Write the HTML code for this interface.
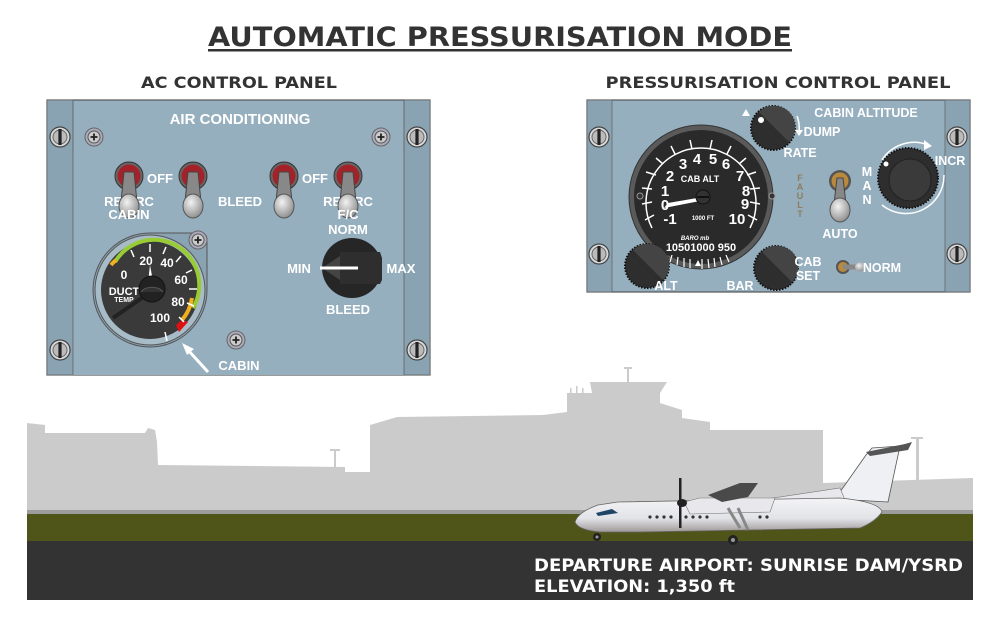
<!DOCTYPE html>
<html><head><meta charset="utf-8"><style>
html,body{margin:0;padding:0;background:#fff;}
svg{display:block}
text{font-family:"Liberation Sans",Arial,sans-serif;font-weight:bold;}
.v{font-family:"DejaVu Sans","Liberation Sans",sans-serif;font-weight:bold;}
.w{fill:#fff}
</style></head><body>
<svg width="1000" height="625" viewBox="0 0 1000 625" xmlns="http://www.w3.org/2000/svg">
<defs>
<radialGradient id="knob" cx="0.4" cy="0.35" r="0.7"><stop offset="0" stop-color="#f2f2f2"/><stop offset="1" stop-color="#8a8a8a"/></radialGradient>
<linearGradient id="fus" x1="0" y1="0" x2="0" y2="1"><stop offset="0" stop-color="#f4f4f6"/><stop offset="0.6" stop-color="#e2e3e8"/><stop offset="1" stop-color="#a09a98"/></linearGradient>
<g id="slot"><circle r="10" fill="#d8d8d8" stroke="#444" stroke-width="1.2"/><circle r="7" fill="#bbb" stroke="#666"/><rect x="-1.6" y="-8" width="3.2" height="16" fill="#222"/></g>
<g id="phil"><circle r="9" fill="#aab" stroke="#666"/><circle r="6" fill="#ccc" stroke="#555"/><path d="M-3.5 0H3.5M0 -3.5V3.5" stroke="#222" stroke-width="1.8"/></g>
<g id="tog"><circle r="14" fill="#666" stroke="#333"/><circle r="11.5" fill="#a3222a"/><path d="M-5 -4 L5 -4 L8 26 L-8 26Z" fill="#888" stroke="#444"/><ellipse cx="0" cy="30" rx="10" ry="12" fill="url(#knob)" stroke="#555"/></g>
<g id="dk"><circle r="22" fill="#2e2e2e" stroke="#111" stroke-width="2" stroke-dasharray="1.5 1.5"/><path d="M-14 -16 A21 21 0 0 1 16 14Z" fill="#444"/></g>
</defs>

<text x="500" y="46" text-anchor="middle" class="v" font-size="27" fill="#333" textLength="584" lengthAdjust="spacingAndGlyphs">AUTOMATIC PRESSURISATION MODE</text>
<rect x="208" y="49" width="584" height="2.5" fill="#333"/>
<text x="239" y="88" text-anchor="middle" class="v" font-size="16" fill="#333" textLength="196" lengthAdjust="spacingAndGlyphs">AC CONTROL PANEL</text>
<text x="778" y="88" text-anchor="middle" class="v" font-size="16" fill="#333" textLength="345" lengthAdjust="spacingAndGlyphs">PRESSURISATION CONTROL PANEL</text>

<polygon fill="#cbcbcb" points="27,423 45,425 45,433 145,433 148,428 155,430 157,442 158,465 345,467 345,472 370,472 370,425 397,417 543,415 567,412 567,393 592,393 590,382 667,382 660,393 660,403 682,410 682,418 710,422 710,430 823,430 823,483 973,478 973,512 27,512"/>
<rect x="570" y="388" width="1.5" height="6" fill="#cbcbcb"/><rect x="576" y="386" width="1.5" height="8" fill="#cbcbcb"/><rect x="582" y="388" width="1.5" height="6" fill="#cbcbcb"/>
<rect x="624" y="367" width="8" height="2" fill="#cbcbcb"/><rect x="627" y="367" width="2" height="16" fill="#cbcbcb"/>
<rect x="334" y="449" width="2" height="20" fill="#cbcbcb"/><rect x="330" y="449" width="10" height="2" fill="#cbcbcb"/>
<rect x="916" y="438" width="3" height="45" fill="#cbcbcb"/><rect x="911" y="437" width="12" height="2" fill="#cbcbcb"/>
<rect x="27" y="510" width="946" height="5" fill="#9c9c9c"/>
<rect x="27" y="514" width="946" height="27" fill="#4f5519"/>
<rect x="27" y="541" width="946" height="59" fill="#333"/>
<text x="534" y="571" class="v" font-size="16.5" fill="#fff" textLength="429" lengthAdjust="spacingAndGlyphs">DEPARTURE AIRPORT: SUNRISE DAM/YSRD</text>
<text x="534" y="592" class="v" font-size="16.5" fill="#fff" textLength="201" lengthAdjust="spacingAndGlyphs">ELEVATION: 1,350 ft</text>

<g>
<path d="M835 499 L866 455 L872 448 L900 446 L888 502 Z" fill="#eef0f4" stroke="#555" stroke-width="0.8"/>
<path d="M866 452 L905 444 L912 442 L908 450 L870 456Z" fill="#555"/>
<path d="M760 500 L840 488 L845 500Z" fill="#e8e8ec" stroke="#777" stroke-width="0.6"/>
<path d="M575 522 Q578 512 598 505 L618 502 L840 498 Q880 502 882 512 Q875 522 860 528 L640 532 L600 532 Q578 530 575 522Z" fill="url(#fus)" stroke="#666" stroke-width="0.8"/>
<path d="M596 513 L612 509 L618 513 L598 516Z" fill="#1e4566"/>
<g fill="#333"><circle cx="650" cy="517" r="1.6"/><circle cx="657" cy="517" r="1.6"/><circle cx="664" cy="517" r="1.6"/><circle cx="671" cy="517" r="1.6"/><circle cx="686" cy="517" r="1.6"/><circle cx="693" cy="517" r="1.6"/><circle cx="700" cy="517" r="1.6"/><circle cx="707" cy="517" r="1.6"/><circle cx="760" cy="517" r="1.6"/><circle cx="767" cy="517" r="1.6"/></g>
<path d="M684 502 L700 498 L775 498 L770 512 L690 514Z" fill="#e8e8ec" stroke="#777" stroke-width="0.6"/>
<path d="M708 495 L740 483 L758 483 L748 497 L722 502Z" fill="#4a4a4a"/>
<path d="M728 508 L740 528 M738 508 L748 530" stroke="#888" stroke-width="3"/>
<rect x="679" y="478" width="2.5" height="50" fill="#222"/>
<ellipse cx="682" cy="503" rx="5" ry="4" fill="#222"/>
<circle cx="597" cy="537" r="4" fill="#222"/><circle cx="597" cy="537" r="1.5" fill="#999"/>
<circle cx="733" cy="540" r="5" fill="#222"/><circle cx="733" cy="540" r="2" fill="#999"/>
</g>

<rect x="47" y="100" width="383" height="275" fill="#96afbf" stroke="#555" stroke-width="1.2"/>
<rect x="47" y="100" width="26" height="275" fill="#8aa3b3" stroke="#666" stroke-width="0.8"/>
<rect x="404" y="100" width="26" height="275" fill="#8aa3b3" stroke="#666" stroke-width="0.8"/>
<rect x="73" y="150" width="331" height="225" fill="#96afbf"/>
<line x1="73" y1="100" x2="73" y2="375" stroke="#666" stroke-width="0.8"/>
<line x1="404" y1="100" x2="404" y2="375" stroke="#666" stroke-width="0.8"/>
<use href="#slot" x="60" y="137"/><use href="#slot" x="417" y="137"/><use href="#slot" x="60" y="350"/><use href="#slot" x="417" y="350"/>
<use href="#phil" x="94" y="137"/><use href="#phil" x="381" y="137"/><use href="#phil" x="236" y="340"/>
<text x="240" y="124" text-anchor="middle" font-size="15" class="w">AIR CONDITIONING</text>
<text x="129" y="206" text-anchor="middle" font-size="13" class="w">RECIRC</text>
<text x="348" y="206" text-anchor="middle" font-size="13" class="w">RECIRC</text>
<use href="#tog" x="129" y="176"/><use href="#tog" x="193" y="176"/><use href="#tog" x="284" y="176"/><use href="#tog" x="348" y="176"/>
<text x="160" y="183" text-anchor="middle" font-size="13" class="w">OFF</text>
<text x="315" y="183" text-anchor="middle" font-size="13" class="w">OFF</text>
<text x="240" y="206" text-anchor="middle" font-size="13" class="w">BLEED</text>
<text x="129" y="219" text-anchor="middle" font-size="13" class="w">CABIN</text>
<text x="348" y="219" text-anchor="middle" font-size="13" class="w">F/C</text>
<text x="348" y="234" text-anchor="middle" font-size="13" class="w">NORM</text>
<path d="M150 233 A57 57 0 1 0 207 290 L207 240 Q207 233 200 233Z" fill="#8aa3b3" stroke="#555"/>
<circle cx="150" cy="290" r="55" fill="#a8bcc8" stroke="#555"/>
<circle cx="150" cy="290" r="49" fill="#3a3a3a"/>
<use href="#phil" x="198" y="240"/>
<path d="M115 262 A44 44 0 0 1 193 308" fill="none" stroke="#9c3" stroke-width="4"/>
<path d="M111 265 A44 44 0 0 1 116 260" fill="none" stroke="#f0b020" stroke-width="4"/>
<path d="M192 298 A44 44 0 0 1 182 320" fill="none" stroke="#f0b020" stroke-width="4"/>
<path d="M182 320 L176 325 L179 332 L188 322Z" fill="#d11"/>
<g stroke="#fff" stroke-width="1.5"><path d="M131 250 L134 257 M150 244 L150 252 M166 247 L163 254 M181 256 L176 262 M192 270 L186 273 M197 289 L189 289 M194 306 L187 303 M184 322 L179 317 M167 341 L165 332"/></g>
<text x="124" y="279" font-size="12" class="w" text-anchor="middle">0</text>
<text x="146" y="265" font-size="12" class="w" text-anchor="middle">20</text>
<text x="167" y="267" font-size="12" class="w" text-anchor="middle">40</text>
<text x="181" y="284" font-size="12" class="w" text-anchor="middle">60</text>
<text x="178" y="306" font-size="12" class="w" text-anchor="middle">80</text>
<text x="160" y="322" font-size="12" class="w" text-anchor="middle">100</text>
<text x="124" y="295" font-size="11" class="w" text-anchor="middle">DUCT</text>
<text x="124" y="302" font-size="7" class="w" text-anchor="middle">TEMP</text>
<line x1="152" y1="291" x2="113" y2="318" stroke="#222" stroke-width="4"/>
<path d="M150 265 L147 292 L155 292Z" fill="#fff"/>
<circle cx="152" cy="289" r="13" fill="#222" stroke="#111"/>
<path d="M141 292 A12 8 0 0 1 163 292" fill="#333" stroke="#555"/>
<path d="M208 372 L188 350" stroke="#fff" stroke-width="3"/><path d="M182 343 L194 349 L187 355Z" fill="#fff"/>
<text x="239" y="370" text-anchor="middle" font-size="13" class="w">CABIN</text>
<circle cx="352" cy="268" r="30" fill="#262626"/>
<path d="M340 252 L380 252 L382 258 L382 280 L380 284 L340 284Z" fill="#2e2e2e"/>
<path d="M322 268 L340 256 L340 280Z" fill="#444"/>
<line x1="320" y1="268" x2="358" y2="268" stroke="#fff" stroke-width="3"/>
<text x="299" y="273" text-anchor="middle" font-size="13" class="w">MIN</text>
<text x="401" y="273" text-anchor="middle" font-size="13" class="w">MAX</text>
<text x="348" y="314" text-anchor="middle" font-size="13" class="w">BLEED</text>

<rect x="587" y="100" width="383" height="192" fill="#96afbf" stroke="#555" stroke-width="1.2"/>
<rect x="587" y="100" width="25" height="192" fill="#8aa3b3" stroke="#666" stroke-width="0.8"/>
<rect x="945" y="100" width="25" height="192" fill="#8aa3b3" stroke="#666" stroke-width="0.8"/>
<use href="#slot" x="599" y="137"/><use href="#slot" x="957" y="137"/><use href="#slot" x="599" y="254"/><use href="#slot" x="957" y="254"/>
<circle cx="701" cy="197" r="72" fill="#5a5a5a" stroke="#333"/>
<circle cx="701" cy="197" r="67" fill="#2a2a2a"/>
<circle cx="640" cy="196" r="3" fill="#333" stroke="#999"/><circle cx="772" cy="196" r="3" fill="#333" stroke="#999"/>
<path d="M652 228 A55 55 0 1 1 750 228" fill="none" stroke="#fff" stroke-width="1.5"/>
<g stroke="#fff" stroke-width="1.5" fill="none"><path d="M645 220 L654 215 M642 204 L652 202 M642 188 L652 189 M646 172 L656 175 M656 158 L663 164 M671 146 L675 154 M690 140 L692 149 M712 140 L710 149 M731 146 L727 154 M746 158 L739 164 M756 172 L747 175 M760 188 L750 189 M760 204 L750 202 M757 220 L748 215"/></g>
<g class="w" font-size="15" text-anchor="middle">
<text x="683" y="169">3</text><text x="697" y="164">4</text><text x="713" y="164">5</text><text x="726" y="169">6</text><text x="740" y="181">7</text><text x="746" y="196">8</text><text x="745" y="209">9</text><text x="737" y="224">10</text><text x="670" y="181">2</text><text x="665" y="196">1</text><text x="665" y="210">0</text><text x="670" y="224">-1</text>
</g>
<text x="700" y="182" text-anchor="middle" font-size="9" class="w">CAB ALT</text>
<text x="703" y="220" text-anchor="middle" font-size="6" class="w">1000 FT</text>
<text x="695" y="240" text-anchor="middle" font-size="6" class="w" font-style="italic">BARO mb</text>
<text x="701" y="251" text-anchor="middle" font-size="11" class="w">10501000 950</text>
<g stroke="#fff" stroke-width="1.2"><path d="M672 255 L670 262 M678 257 L677 265 M684 258 L684 267 M690 259 L690 268 M702 259 L702 269 M708 259 L709 268 M714 258 L715 267 M720 257 L722 265 M726 255 L729 262"/></g>
<path d="M695 266 L698 260 L701 266Z" fill="#fff"/>
<path d="M703 197 L668 203 L664 208 L700 201Z" fill="#fff"/>
<circle cx="703" cy="197" r="7" fill="#333" stroke="#111"/><line x1="697" y1="197" x2="709" y2="197" stroke="#111" stroke-width="2"/>
<use href="#dk" x="773" y="128"/>
<circle cx="761" cy="120" r="3" fill="#fff"/>
<path d="M742 116 L746 109 L750 116Z" fill="#fff"/>
<path d="M797 116 Q800 124 799 132" stroke="#fff" stroke-width="1.5" fill="none"/><path d="M795 130 L803 130 L799 136Z" fill="#fff"/>
<text x="866" y="117" text-anchor="middle" font-size="12.5" class="w">CABIN ALTITUDE</text>
<text x="822" y="136" text-anchor="middle" font-size="12.5" class="w">DUMP</text>
<text x="800" y="157" text-anchor="middle" font-size="12.5" class="w">RATE</text>
<g fill="#8a7d62" font-size="9" text-anchor="middle"><text x="800" y="181">F</text><text x="800" y="190">A</text><text x="800" y="199">U</text><text x="800" y="208">L</text><text x="800" y="217">T</text></g>
<circle cx="840" cy="181" r="11" fill="#555"/><circle cx="840" cy="181" r="8.5" fill="#b98a3c"/>
<path d="M837 178 L843 178 L846 204 L834 204Z" fill="#888" stroke="#444"/>
<ellipse cx="840" cy="210" rx="10" ry="12" fill="url(#knob)" stroke="#555"/>
<text x="840" y="238" text-anchor="middle" font-size="12.5" class="w">AUTO</text>
<g class="w" font-size="12.5" text-anchor="middle"><text x="867" y="176">M</text><text x="867" y="190">A</text><text x="867" y="204">N</text></g>
<path d="M882 160 A38 38 0 0 1 928 145" fill="none" stroke="#fff" stroke-width="1.5"/><path d="M924 140 L932 146 L924 150Z" fill="#fff"/>
<path d="M944 175 A38 38 0 0 1 882 205" fill="none" stroke="#fff" stroke-width="1.5"/>
<circle cx="908" cy="178" r="30" fill="#2e2e2e" stroke="#111" stroke-width="2" stroke-dasharray="1.5 1.5"/>
<circle cx="910" cy="180" r="21" fill="#3a3a3a" stroke="#222"/>
<circle cx="886" cy="164" r="2.5" fill="#fff"/>
<text x="950" y="165" text-anchor="middle" font-size="12.5" class="w">INCR</text>
<use href="#dk" x="647" y="266"/><use href="#dk" x="776" y="268"/>
<text x="666" y="290" text-anchor="middle" font-size="12.5" class="w">ALT</text>
<text x="740" y="290" text-anchor="middle" font-size="12.5" class="w">BAR</text>
<text x="808" y="266" text-anchor="middle" font-size="12.5" class="w">CAB</text>
<text x="808" y="280" text-anchor="middle" font-size="12.5" class="w">SET</text>
<circle cx="843" cy="267" r="7" fill="#555"/><circle cx="843" cy="267" r="5" fill="#b98a3c"/>
<rect x="843" y="264.5" width="16" height="5" fill="#888"/><ellipse cx="860" cy="267" rx="5" ry="4.5" fill="url(#knob)"/>
<text x="882" y="272" text-anchor="middle" font-size="12.5" class="w">NORM</text>
</svg>
</body></html>
